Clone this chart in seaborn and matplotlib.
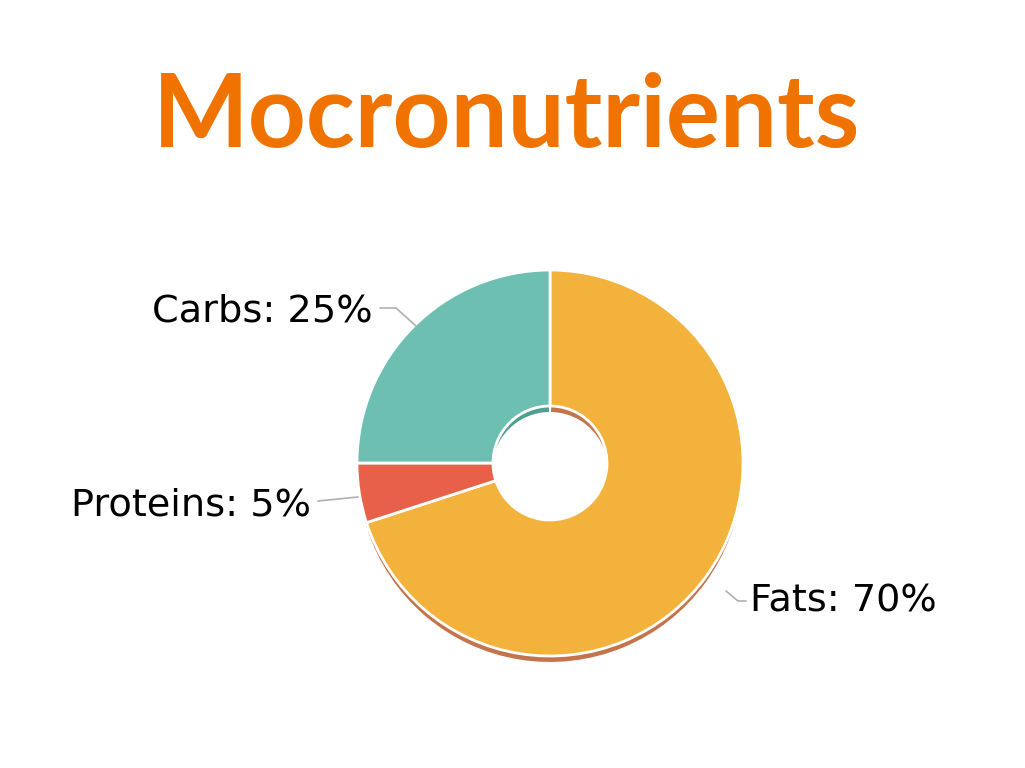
import matplotlib
matplotlib.use("Agg")
import matplotlib.pyplot as plt
import seaborn as sns

title = "Mocronutrients"
labels = ["Fats", "Proteins", "Carbs"]
shares = [70, 5, 25]
colors = ["#F3B23C", "#E8604A", "#6DBFB2"]
shadow_colors = ["#C4744A", "#B84A3A", "#4E9E92"]

sns.set_theme(style="white")
plt.rcParams["font.family"] = ["DejaVu Sans"]

fig = plt.figure(figsize=(10.25, 7.68), dpi=100)
ax = fig.add_axes([0, 0, 1, 1])
ax.set_xlim(0, 1025)
ax.set_ylim(0, 768)
ax.set_aspect("equal")
ax.axis("off")

cx, cy, r = 550, 305, 193
ring = (r - 57) / r

# shadow (3d look)
ax.pie(shares, colors=shadow_colors, startangle=90, counterclock=False,
       center=(cx, cy - 7), radius=r,
       wedgeprops=dict(width=r * ring, edgecolor="white", linewidth=1.5))
# main ring
wedges, _ = ax.pie(shares, colors=colors, startangle=90, counterclock=False,
                   center=(cx, cy), radius=r,
                   wedgeprops=dict(width=r * ring, edgecolor="white", linewidth=2))
ax.set_xlim(0, 1025)
ax.set_ylim(0, 768)

# leader lines and labels
line_kw = dict(color="#b0b0b0", lw=1.2)
ax.plot([380, 396, 416], [768 - 308, 768 - 308, 768 - 326], **line_kw)
ax.plot([318, 358], [768 - 501, 768 - 497], **line_kw)
ax.plot([726, 738, 746], [768 - 591, 768 - 601, 768 - 601], **line_kw)

fs = 27.5
ax.text(373, 768 - 312, f"{labels[2]}: {shares[2]}%", ha="right", va="center", fontsize=fs, color="black")
ax.text(311, 768 - 505, f"{labels[1]}: {shares[1]}%", ha="right", va="center", fontsize=fs, color="black")
ax.text(750, 768 - 602, f"{labels[0]}: {shares[0]}%", ha="left", va="center", fontsize=fs, color="black")

ax.text(507, 768 - 118, title, ha="center", va="center", fontsize=73,
        fontweight="bold", color="#F07300", family=["Lato", "DejaVu Sans"])

fig.savefig("out.png", dpi=100)
